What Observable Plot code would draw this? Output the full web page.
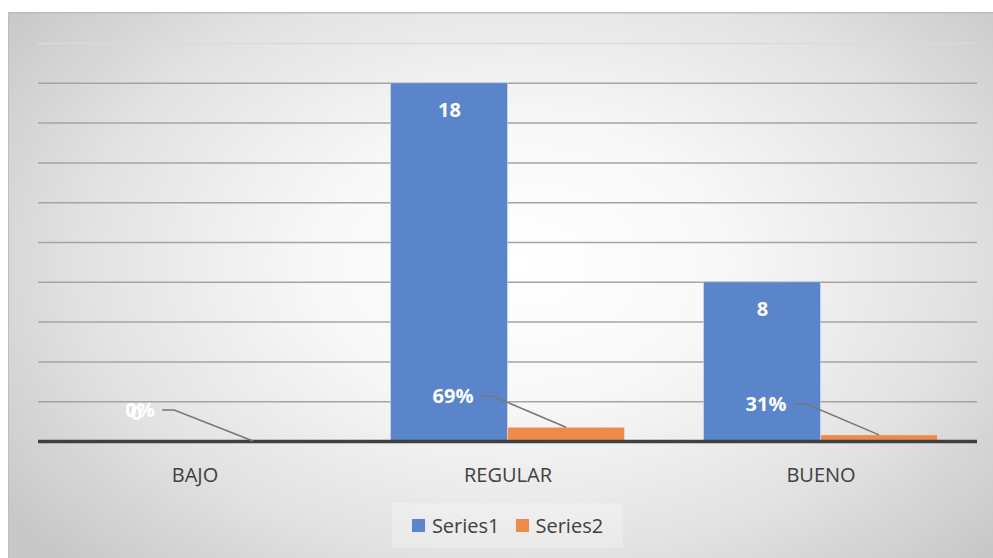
<!DOCTYPE html>
<html><head><meta charset="utf-8">
<script src="https://cdn.jsdelivr.net/npm/d3@7"></script>
<script src="https://cdn.jsdelivr.net/npm/@observablehq/plot@0.6"></script>
<style>
html,body{margin:0;padding:0;background:#fff;width:993px;height:558px;overflow:hidden;}
#chart{position:absolute;left:8px;top:12px;width:985px;height:546px;
  background:radial-gradient(ellipse 64% 78% at 52% 46%, #ffffff 0%, #f8f8f8 32%, #e3e3e3 68%, #c8c8c8 100%);
  box-shadow: inset 1px 1.5px 0 #bdbdbd; overflow:hidden; font-family:"Open Sans",sans-serif;}
#chart svg{position:absolute;left:0;top:0;background:transparent;}
#legend{position:absolute;left:384px;top:491px;width:231px;height:45px;background:rgba(255,255,255,0.25);
  display:flex;align-items:center;justify-content:center;gap:16px;font-size:20px;color:#404040;}
#legend .item{display:flex;align-items:center;gap:7px;}
#legend .sw{width:13px;height:13px;display:inline-block;}
</style></head><body><div id="chart"></div>
<script>
const categories = ["BAJO", "REGULAR", "BUENO"];
const seriesNames = ["Series1", "Series2"];
const series1 = [0, 18, 8];
const series2 = [0, 0.69, 0.31];
const gridTicks = [0, 2, 4, 6, 8, 10, 12, 14, 16, 18, 20];
const colors = ["#5b85cb", "#ee8b4b"];

const rows = categories.map((c, i) => ({category: c, s1: series1[i], s2: series2[i]}));

const W = 985, H = 479;
const BAND = 313;          // band width at this size
const BAR = 117, PAD = 39.5;
const S2_LABEL_DX = -55, S2_LABEL_DY = -31;
const fmtPct = d3.format(".0%");

const ctx = document.createElement("canvas").getContext("2d");
ctx.font = "bold 20px 'Open Sans'";

function leaders(index, scales) {
  const x = scales.x, y = scales.y;
  const bw = x.bandwidth ? x.bandwidth() : BAND;
  const k = bw / BAND;
  const g = d3.create("svg:g").attr("fill", "none").attr("stroke", "#767676").attr("stroke-width", 1.5);
  rows.forEach(r => {
    const c = x(r.category) + bw / 2;
    const bx = c + (BAR / 2) * k;
    const by = y(r.s2);
    const lx = c + S2_LABEL_DX * k;
    const ly = by + S2_LABEL_DY;
    const tw = ctx.measureText(fmtPct(r.s2)).width;
    const sx = lx + tw / 2 + 8;
    g.append("path").attr("d", `M${sx},${ly}H${sx + 12}L${bx},${by}`);
  });
  return g.node();
}

const plot = Plot.plot({
  width: W, height: H,
  marginLeft: 30, marginRight: 16, marginTop: 31, marginBottom: 50,
  style: {background: "transparent", fontFamily: "'Open Sans', sans-serif", fontSize: "20px", color: "#404040"},
  x: {domain: categories, padding: 0, tickSize: 0, tickPadding: 26, label: null},
  y: {domain: [0, 20], axis: null},
  marks: [
    Plot.ruleY(gridTicks.filter(d => d > 0), {stroke: d => d === 20 ? "#dadada" : "#a4a4a4", strokeWidth: 1.5}),
    Plot.barY(rows, {x: "category", y: "s1", fill: colors[0], stroke: "rgba(255,255,255,0.35)", strokeWidth: 1,
      insetLeft: PAD, insetRight: BAND - PAD - BAR}),
    Plot.barY(rows, {x: "category", y: "s2", fill: colors[1], stroke: "rgba(255,255,255,0.35)", strokeWidth: 1,
      insetLeft: PAD + BAR, insetRight: PAD}),
    Plot.ruleY([0], {stroke: "#404040", strokeWidth: 3.5}),
    Plot.text(rows.filter(r => r.s1 > 0), {x: "category", y: "s1", text: d => String(d.s1), dx: -BAR / 2, dy: 27.5,
      fill: "white", fontWeight: "bold", fontSize: 20}),
    Plot.text(rows.filter(r => r.s1 === 0), {x: "category", y: "s1", text: d => String(d.s1), dx: -BAR / 2, dy: -27.5,
      fill: "white", fontWeight: "bold", fontSize: 20}),
    leaders,
    Plot.text(rows, {x: "category", y: "s2", text: d => fmtPct(d.s2), dx: S2_LABEL_DX, dy: S2_LABEL_DY,
      fill: "white", fontWeight: "bold", fontSize: 20})
  ]
});
const chart = document.getElementById("chart");
chart.appendChild(plot);

const legend = document.createElement("div");
legend.id = "legend";
seriesNames.forEach((n, i) => {
  const it = document.createElement("span");
  it.className = "item";
  it.innerHTML = `<span class="sw" style="background:${colors[i]}"></span><span>${n}</span>`;
  legend.appendChild(it);
});
chart.appendChild(legend);
</script>
</body></html>
